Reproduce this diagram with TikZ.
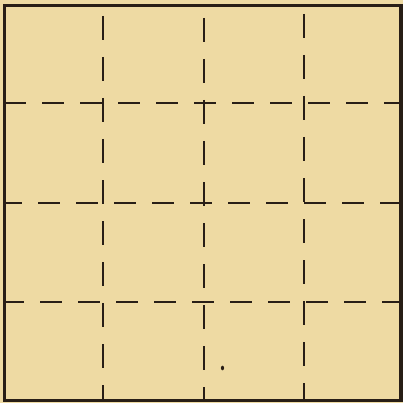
\documentclass[tikz,border=0pt]{standalone}
\definecolor{paper}{RGB}{238,218,163}
\definecolor{ink}{RGB}{40,30,22}
\begin{document}
\begin{tikzpicture}[x=1pt,y=-1pt,
  gridline/.style={draw=ink,line width=2.8pt,dash pattern=on 22pt off 16pt},
  vgridline/.style={draw=ink,line width=2.8pt,dash pattern=on 24pt off 17pt},
  frame/.style={draw=ink,line width=3.6pt}]
\fill[paper] (0,0) rectangle (403,403);
\useasboundingbox (0,0) rectangle (403,403);
% vertical dashed lines
\draw[vgridline,dash phase=-10pt] (103,6) -- (103,400);
\draw[vgridline,dash phase=-12pt] (204,6) -- (204,400);
\draw[vgridline,dash phase=-8pt] (304,6) -- (304,400);
% horizontal dashed lines
\draw[gridline] (4,103) -- (401,103);
\draw[gridline,dash phase=4pt] (4,203) -- (401,203);
\draw[gridline,dash phase=2pt] (4,302) -- (401,302);
% frame
\draw[frame] (4.5,5.5) rectangle (401,400.5);
% small dot
\fill[ink] (222.5,368) ellipse (1.6pt and 2.3pt);
\end{tikzpicture}
\end{document}
